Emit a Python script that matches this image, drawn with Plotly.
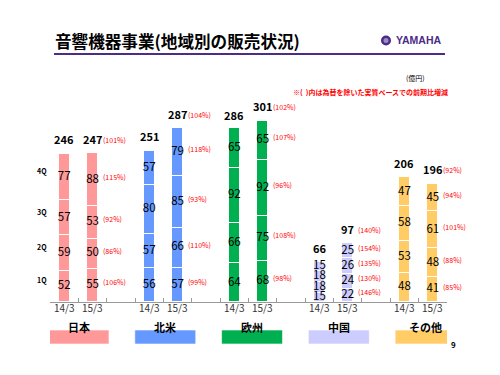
import plotly.graph_objects as go
import numpy as np

regions = ["日本", "北米", "欧州", "中国", "その他"]
periods = ["14/3", "15/3"]
region_colors = ["#FF9999", "#6699FF", "#00B050", "#CCCCFF", "#FFCC66"]
quarter_labels = ["1Q", "2Q", "3Q", "4Q"]

# order: 日本14/3, 日本15/3, 北米14/3, 北米15/3, 欧州..., 中国..., その他...
q1 = [52, 55, 56, 57, 64, 68, 15, 22, 48, 41]
q2 = [59, 50, 57, 66, 66, 75, 18, 24, 53, 48]
q3 = [57, 53, 80, 85, 92, 92, 18, 26, 58, 61]
q4 = [77, 88, 57, 79, 65, 65, 15, 25, 47, 45]
totals = [246, 247, 251, 287, 286, 301, 66, 97, 206, 196]

pct_q1 = [106, 99, 98, 146, 85]
pct_q2 = [86, 110, 108, 130, 88]
pct_q3 = [92, 93, 96, 135, 101]
pct_q4 = [115, 118, 107, 154, 94]
pct_total = [101, 104, 102, 140, 92]

FONT = "Noto Sans CJK JP"
PURPLE = "#4B2C86"

# page body has an 8px default margin; shift the figure up/left to compensate
OFF = 8
PLOT_L, PLOT_R, PLOT_T, PLOT_B = 50, 447, 100, 302  # target page pixels

xs = [g * 3 + i for g in range(len(regions)) for i in range(len(periods))]
bar_colors = [region_colors[g] for g in range(len(regions)) for _ in periods]
quarters = [q1, q2, q3, q4]

fig = go.Figure()
base = np.zeros(len(xs))
mids = []
for k, q in enumerate(quarters):
    qa = np.array(q, dtype=float)
    fig.add_trace(go.Bar(
        x=xs, y=q, width=0.39,
        marker=dict(color=bar_colors, line=dict(color="white", width=1)),
        showlegend=False, hoverinfo="skip", name=quarter_labels[k]))
    mids.append(base + qa / 2)
    fig.add_trace(go.Scatter(
        x=xs, y=base + qa / 2, mode="text", text=[str(v) for v in q],
        textfont=dict(size=11.5, color="black", family=FONT),
        showlegend=False, hoverinfo="skip", cliponaxis=False))
    base = base + qa

annotations = []
for x, t in zip(xs, totals):
    annotations.append(dict(x=x, y=t, xref="x", yref="y", text="<b>%d</b>" % t,
                            showarrow=False, yanchor="bottom", yshift=4,
                            font=dict(size=11, color="black", family=FONT)))
pcts = [pct_q1, pct_q2, pct_q3, pct_q4]
for g in range(len(regions)):
    idx = g * 2 + 1
    x = xs[idx] + 0.3
    for k in range(4):
        annotations.append(dict(x=x, y=mids[k][idx], xref="x", yref="y",
                                text="(%d%%)" % pcts[k][g], showarrow=False,
                                xanchor="left", yshift=3,
                                font=dict(size=7, color="red", family=FONT)))
    annotations.append(dict(x=x, y=totals[idx], xref="x", yref="y",
                            text="(%d%%)" % pct_total[g], showarrow=False,
                            xanchor="left", yanchor="bottom", yshift=6,
                            font=dict(size=7, color="red", family=FONT)))

for k in range(4):
    annotations.append(dict(x=0, y=mids[k][0], xref="paper", yref="y",
                            text="<b>%s</b>" % quarter_labels[k], showarrow=False,
                            xanchor="right", xshift=-1, yshift=6,
                            font=dict(size=7, color="black", family=FONT)))


def px_x(px):
    return (px - PLOT_L) / float(PLOT_R - PLOT_L)


def px_y(py):
    return (PLOT_B - py) / float(PLOT_B - PLOT_T)


for x, i in zip(xs, [i for _ in regions for i in range(len(periods))]):
    annotations.append(dict(x=x, y=px_y(317), xref="x", yref="paper",
                            text=periods[i], showarrow=False,
                            font=dict(size=10, color="#333333", family=FONT)))

shapes = []
for g, (r, c) in enumerate(zip(regions, region_colors)):
    x0 = g * 3 - 0.57 + g * 0.06
    x1 = g * 3 + 1.58 + g * 0.06
    shapes.append(dict(type="rect", xref="x", yref="paper", x0=x0, x1=x1,
                       y0=px_y(344), y1=px_y(330), fillcolor=c,
                       line=dict(color="rgba(255,255,255,0.6)", width=1), layer="above"))
    annotations.append(dict(x=(x0 + x1) / 2, y=px_y(337), xref="x", yref="paper",
                            text="<b>%s</b>" % r, showarrow=False,
                            font=dict(size=11, color="black", family=FONT)))

annotations.append(dict(x=px_x(53), y=px_y(41.5), xref="paper", yref="paper",
                        text="<b>音響機器事業(地域別の販売状況)</b>", showarrow=False,
                        xanchor="left", yanchor="middle",
                        font=dict(size=16.6, color="black", family=FONT)))
shapes.append(dict(type="line", xref="paper", yref="paper", x0=px_x(54), x1=px_x(445),
                   y0=px_y(54), y1=px_y(54), line=dict(color=PURPLE, width=2)))
# YAMAHA emblem
shapes.append(dict(type="circle", xref="paper", yref="paper", x0=px_x(381), x1=px_x(391),
                   y0=px_y(45.5), y1=px_y(35.5), fillcolor=PURPLE, line=dict(width=0)))
shapes.append(dict(type="circle", xref="paper", yref="paper", x0=px_x(383.5), x1=px_x(388.5),
                   y0=px_y(43), y1=px_y(38), fillcolor="#9C8CC4", line=dict(width=0)))
annotations.append(dict(x=px_x(444), y=px_y(40.5), xref="paper", yref="paper",
                        text="<b>YAMAHA</b>", showarrow=False, xanchor="right",
                        yanchor="middle",
                        font=dict(size=10.5, color=PURPLE, family="Liberation Sans")))
annotations.append(dict(x=px_x(427), y=px_y(71), xref="paper", yref="paper",
                        text="(億円)", showarrow=False,
                        font=dict(size=7, color="black", family=FONT)))
annotations.append(dict(x=px_x(291), y=px_y(85), xref="paper", yref="paper",
                        text="<b>※(  )内は為替を除いた実質ベースでの前期比増減</b>",
                        showarrow=False, xanchor="left",
                        font=dict(size=7, color="red", family=FONT)))
annotations.append(dict(x=px_x(458), y=px_y(352), xref="paper", yref="paper",
                        text="<b>9</b>", showarrow=False,
                        font=dict(size=8, color="black", family=FONT)))

W, H = 500, 375
fig.update_layout(
    width=W, height=H,
    margin=dict(l=PLOT_L - OFF, r=W - (PLOT_R - OFF), t=PLOT_T - OFF, b=H - (PLOT_B - OFF)),
    paper_bgcolor="white", plot_bgcolor="white",
    barmode="stack", bargap=0,
    showlegend=False,
    xaxis=dict(range=[-0.5, 13.5], showline=True, linecolor="#999999", linewidth=1,
               tickvals=[-0.5 + i for i in range(15)], ticks="inside", ticklen=4,
               tickcolor="#999999", showticklabels=False, showgrid=False,
               zeroline=False, fixedrange=True),
    yaxis=dict(range=[0, 334], visible=False, fixedrange=True),
    annotations=annotations,
    shapes=shapes,
)

fig.write_html("out.html")
